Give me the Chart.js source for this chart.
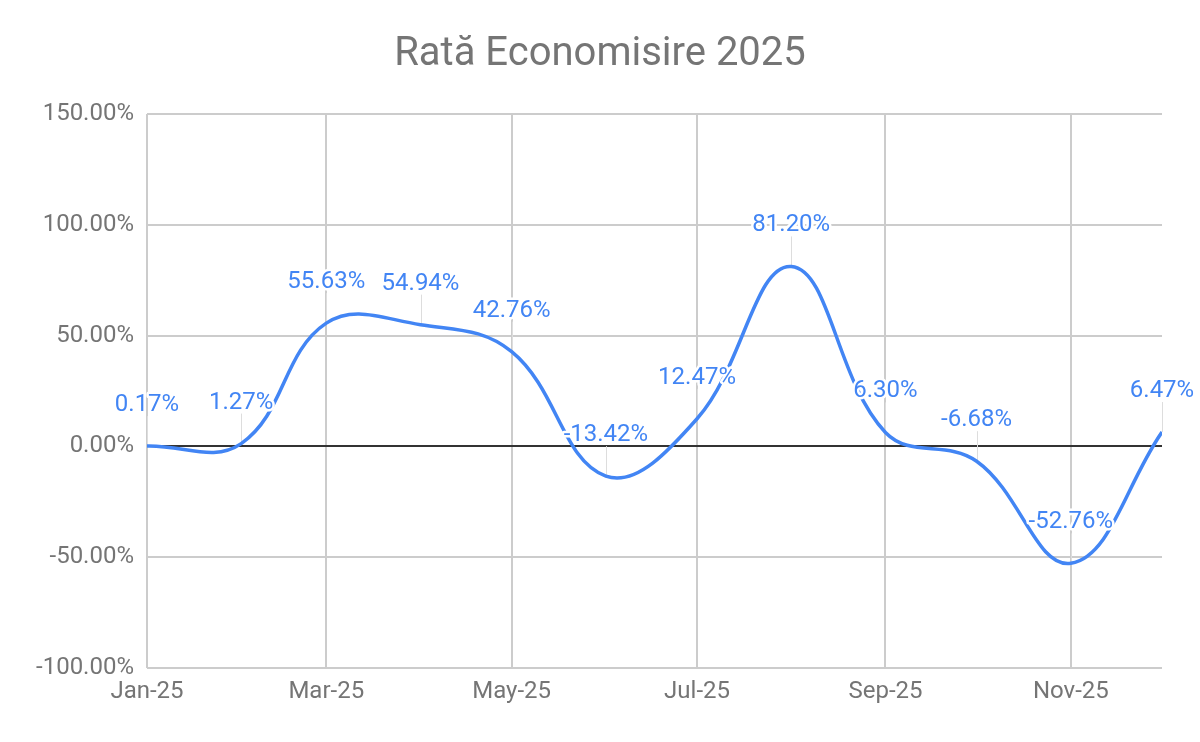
<!DOCTYPE html>
<html>
<head>
<meta charset="utf-8">
<script src="https://cdn.jsdelivr.net/npm/chart.js@4.4.1/dist/chart.umd.min.js"></script>
<style>
  html, body { margin: 0; padding: 0; background: #fff; }
  #wrap { width: 1200px; height: 742px; position: relative; }
</style>
</head>
<body>
<div id="wrap"><canvas id="graficRata"></canvas></div>
<script>
// date (luni 2025)
const luni = ['Jan-25', 'Feb-25', 'Mar-25', 'Apr-25', 'May-25', 'Jun-25',
              'Jul-25', 'Aug-25', 'Sep-25', 'Oct-25', 'Nov-25', 'Dec-25'];
const rataEconomisire = [0.17, 1.27, 55.63, 54.94, 42.76, -13.42,
                         12.47, 81.20, 6.30, -6.68, -52.76, 6.47];
const luniEtichete = ['Jan-25', 'Mar-25', 'May-25', 'Jul-25', 'Sep-25', 'Nov-25'];
const yMin = -100;
const yMax = 150;
const yPas = 50;

const albastru = '#4285F4';
const gri = '#757575';

// zi din an pentru prima zi a fiecarei luni
function ziDinAn(indexLuna) {
    return (Date.UTC(2025, indexLuna, 1) - Date.UTC(2025, 0, 1)) / 86400000;
}

const puncte = luni.map((l, i) => ({ x: ziDinAn(i), y: rataEconomisire[i] }));
const tickuriX = luniEtichete.map(l => ziDinAn(luni.indexOf(l)));

const etichetePlugin = {
    id: 'etichete',
    beforeDatasetsDraw(chart) {
        const ctx = chart.ctx;
        const meta = chart.getDatasetMeta(0);
        ctx.save();
        ctx.strokeStyle = '#dddddd';
        ctx.lineWidth = 1;
        meta.data.forEach(pt => {
            ctx.beginPath();
            ctx.moveTo(Math.round(pt.x) + 0.5, pt.y);
            ctx.lineTo(Math.round(pt.x) + 0.5, pt.y - 30);
            ctx.stroke();
        });
        ctx.restore();
    },
    afterDatasetsDraw(chart) {
        const ctx = chart.ctx;
        const meta = chart.getDatasetMeta(0);
        ctx.save();
        ctx.font = '24px Roboto';
        ctx.textAlign = 'center';
        ctx.textBaseline = 'middle';
        ctx.lineJoin = 'round';
        meta.data.forEach((pt, i) => {
            const text = rataEconomisire[i].toFixed(2) + '%';
            ctx.lineWidth = 5;
            ctx.strokeStyle = '#ffffff';
            ctx.strokeText(text, pt.x, pt.y - 41);
            ctx.fillStyle = albastru;
            ctx.fillText(text, pt.x, pt.y - 41);
        });
        ctx.restore();
    }
};

const ctx = document.getElementById('graficRata').getContext('2d');
new Chart(ctx, {
    type: 'line',
    data: {
        datasets: [{
            label: 'Rată Economisire',
            data: puncte,
            borderColor: albastru,
            borderWidth: 3.5,
            pointRadius: 0,
            tension: 0.4,
            fill: false
        }]
    },
    options: {
        responsive: true,
        maintainAspectRatio: false,
        animation: false,
        devicePixelRatio: 1,
        layout: { padding: 0 },
        plugins: {
            legend: { display: false },
            tooltip: { enabled: false },
            title: {
                display: true,
                text: 'Rată Economisire 2025',
                color: gri,
                font: { family: 'Roboto', size: 40, weight: 'normal' },
                padding: { top: 31, bottom: 35 }
            }
        },
        scales: {
            x: {
                type: 'linear',
                min: 0,
                max: ziDinAn(11),
                afterBuildTicks(scale) {
                    scale.ticks = tickuriX.map(v => ({ value: v }));
                },
                afterFit(scale) { scale.height = 74; },
                ticks: {
                    color: gri,
                    font: { family: 'Roboto', size: 24 },
                    padding: 10,
                    maxRotation: 0,
                    autoSkip: false,
                    callback: v => luniEtichete[tickuriX.indexOf(v)]
                },
                grid: { color: '#cccccc', lineWidth: 2, drawTicks: false },
                border: { display: false }
            },
            y: {
                min: yMin,
                max: yMax,
                afterFit(scale) { scale.width = 147; },
                ticks: {
                    stepSize: yPas,
                    color: gri,
                    font: { family: 'Roboto', size: 24 },
                    padding: 13,
                    callback: v => v.toFixed(2) + '%'
                },
                grid: {
                    color: c => c.tick && c.tick.value === 0 ? '#333333' : '#cccccc',
                    lineWidth: 2,
                    drawTicks: false
                },
                border: { display: false }
            },
            // spatiu gol la dreapta, ca titlul sa ramana centrat pe pagina
            spatiuDreapta: {
                position: 'right',
                afterFit(scale) { scale.width = 38; },
                ticks: { display: false },
                grid: { display: false, drawTicks: false },
                border: { display: false }
            }
        }
    },
    plugins: [etichetePlugin]
});
</script>
</body>
</html>
